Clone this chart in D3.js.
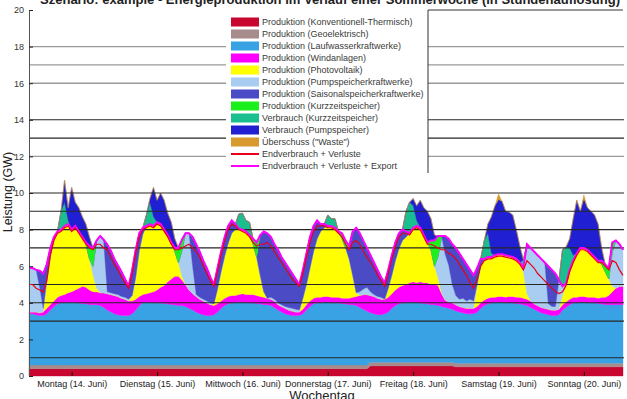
<!DOCTYPE html>
<html lang="de">
<head>
<meta charset="UTF-8">
<title>Energieproduktion im Verlauf einer Sommerwoche</title>
<style>
  html, body { margin: 0; padding: 0; background: #fff; }
  svg { display: block; font-family: 'Liberation Sans', Arial, Helvetica, sans-serif; }
</style>
</head>
<body>
<svg id="chart" width="627" height="399"></svg>
<script src="https://cdn.jsdelivr.net/npm/d3@7"></script>
<script>
// hourly values in GW, one row per day (Mo .. So)
const thermal = [
  0.4,0.4,0.4,0.4,0.4,0.4,0.4,0.4,0.4,0.4,0.4,0.4,0.4,0.4,0.4,0.4,0.4,0.4,0.4,0.4,0.4,0.4,0.4,0.4,
  0.4,0.4,0.4,0.4,0.4,0.4,0.4,0.4,0.4,0.4,0.4,0.4,0.4,0.4,0.4,0.4,0.4,0.4,0.4,0.4,0.4,0.4,0.4,0.4,
  0.4,0.4,0.4,0.4,0.4,0.4,0.4,0.4,0.4,0.4,0.4,0.4,0.4,0.4,0.4,0.4,0.4,0.4,0.4,0.4,0.4,0.4,0.4,0.4,
  0.4,0.4,0.4,0.4,0.4,0.4,0.4,0.4,0.4,0.4,0.4,0.4,0.4,0.4,0.4,0.4,0.4,0.4,0.4,0.4,0.4,0.4,0.4,0.4,
  0.55,0.55,0.55,0.55,0.55,0.55,0.55,0.55,0.55,0.55,0.55,0.55,0.55,0.55,0.55,0.55,0.55,0.55,0.55,0.55,0.55,0.55,0.55,0.55,
  0.5,0.5,0.5,0.5,0.5,0.5,0.5,0.5,0.5,0.5,0.5,0.5,0.5,0.5,0.5,0.5,0.5,0.5,0.5,0.5,0.5,0.5,0.5,0.5,
  0.5,0.5,0.5,0.5,0.5,0.5,0.5,0.5,0.5,0.5,0.5,0.5,0.5,0.5,0.5,0.5,0.5,0.5,0.5,0.5,0.5,0.5,0.5,0.5
];
const geo = [
  0.2,0.2,0.2,0.2,0.2,0.2,0.2,0.2,0.2,0.2,0.2,0.2,0.2,0.2,0.2,0.2,0.2,0.2,0.2,0.2,0.2,0.2,0.2,0.2,
  0.2,0.2,0.2,0.2,0.2,0.2,0.2,0.2,0.2,0.2,0.2,0.2,0.2,0.2,0.2,0.2,0.2,0.2,0.2,0.2,0.2,0.2,0.2,0.2,
  0.2,0.2,0.2,0.2,0.2,0.2,0.2,0.2,0.2,0.2,0.2,0.2,0.2,0.2,0.2,0.2,0.2,0.2,0.2,0.2,0.2,0.2,0.2,0.2,
  0.2,0.2,0.2,0.2,0.2,0.2,0.2,0.2,0.2,0.2,0.2,0.2,0.2,0.2,0.2,0.2,0.2,0.2,0.2,0.2,0.2,0.2,0.2,0.2,
  0.2,0.2,0.2,0.2,0.2,0.2,0.2,0.2,0.2,0.2,0.2,0.2,0.2,0.2,0.2,0.2,0.2,0.2,0.2,0.2,0.2,0.2,0.2,0.2,
  0.2,0.2,0.2,0.2,0.2,0.2,0.2,0.2,0.2,0.2,0.2,0.2,0.2,0.2,0.2,0.2,0.2,0.2,0.2,0.2,0.2,0.2,0.2,0.2,
  0.2,0.2,0.2,0.2,0.2,0.2,0.2,0.2,0.2,0.2,0.2,0.2,0.2,0.2,0.2,0.2,0.2,0.2,0.2,0.2,0.2,0.2,0.2,0.2
];
const lauf = [
  2.8,2.8,2.75,2.7,2.7,2.8,3.0,3.2,3.35,3.4,3.4,3.45,3.45,3.4,3.4,3.35,3.35,3.3,3.3,3.3,3.25,3.15,3.0,2.9,
  2.8,2.75,2.7,2.7,2.7,2.8,3.0,3.25,3.4,3.45,3.45,3.4,3.4,3.4,3.35,3.35,3.3,3.3,3.25,3.25,3.2,3.1,3.0,2.9,
  2.8,2.75,2.7,2.7,2.75,2.9,3.1,3.25,3.35,3.4,3.4,3.45,3.45,3.4,3.4,3.4,3.35,3.35,3.3,3.3,3.25,3.15,3.0,2.9,
  2.8,2.75,2.7,2.7,2.7,2.8,3.0,3.2,3.35,3.4,3.4,3.45,3.45,3.4,3.4,3.4,3.35,3.35,3.3,3.3,3.25,3.15,3.05,2.95,
  2.7,2.65,2.6,2.6,2.65,2.75,2.95,3.1,3.2,3.25,3.25,3.3,3.3,3.25,3.25,3.2,3.2,3.15,3.15,3.1,3.05,3.0,2.95,2.9,
  2.85,2.8,2.75,2.7,2.7,2.7,2.8,3.0,3.15,3.25,3.3,3.3,3.35,3.35,3.3,3.3,3.3,3.25,3.25,3.2,3.15,3.05,2.95,2.85,
  2.75,2.7,2.65,2.6,2.6,2.65,2.9,3.05,3.2,3.3,3.3,3.35,3.35,3.3,3.3,3.3,3.25,3.25,3.2,3.2,3.2,3.2,3.2,3.2
];
const wind = [
  0.1,0.1,0.15,0.15,0.2,0.3,0.3,0.3,0.35,0.4,0.45,0.5,0.55,0.7,0.8,0.95,0.9,0.8,0.7,0.7,0.7,0.8,0.9,0.95,
  1.0,1.0,0.95,0.9,0.8,0.7,0.6,0.5,0.45,0.45,0.5,0.6,0.7,0.85,1.0,1.2,1.4,1.55,1.6,1.4,1.2,1.0,0.9,0.85,
  0.8,0.75,0.7,0.6,0.5,0.45,0.4,0.4,0.4,0.4,0.4,0.4,0.45,0.45,0.45,0.45,0.45,0.4,0.4,0.35,0.35,0.35,0.3,0.3,
  0.3,0.25,0.25,0.2,0.2,0.25,0.3,0.3,0.3,0.3,0.3,0.3,0.3,0.3,0.3,0.3,0.3,0.3,0.35,0.4,0.5,0.65,0.8,0.9,
  0.95,0.95,0.9,0.85,0.8,0.8,0.8,0.85,0.9,0.95,1.0,1.05,1.1,1.1,1.15,1.15,1.15,1.1,1.1,1.1,0.7,0.4,0.35,0.35,
  0.35,0.3,0.3,0.3,0.3,0.3,0.3,0.3,0.3,0.3,0.3,0.3,0.3,0.3,0.3,0.35,0.35,0.35,0.35,0.35,0.35,0.35,0.3,0.3,
  0.3,0.3,0.3,0.3,0.3,0.3,0.3,0.3,0.3,0.3,0.3,0.3,0.3,0.3,0.3,0.3,0.3,0.35,0.4,0.5,0.7,0.9,1.0,1.0
];
const pv = [
  0,0,0,0,0,1.5,2.6,3.4,3.6,3.6,3.75,3.75,3.4,3.5,3.1,2.7,2.35,1.7,0.9,0.2,0,0,0,0,
  0,0,0,0,0,0.3,1.2,2.5,3.3,3.7,3.75,3.6,3.7,3.45,3.05,2.55,2.0,1.35,0.75,0.2,0,0,0,0,
  0,0,0,0,0.1,0.8,1.6,2.3,2.9,3.4,3.6,3.6,3.5,3.45,3.25,2.75,2.1,1.15,0.3,0,0,0,0,0,
  0,0,0,0,0,0.6,1.1,1.8,2.55,3.2,3.6,3.75,3.85,3.9,3.8,3.6,3.25,2.75,2.15,1.2,0.2,0,0,0,
  0,0,0,0,0,0.5,1.0,1.6,2.1,2.45,2.6,2.7,2.95,3.1,2.95,2.6,2.2,1.9,1.0,0.4,0.05,0,0,0,
  0,0,0,0,0,0,1.2,2.0,2.25,2.25,2.2,2.3,2.3,2.3,2.3,2.2,2.15,2.1,1.9,1.4,0.3,0,0,0,
  0,0,0,0,0,0,0.5,1.0,1.6,2.0,2.4,2.65,2.65,2.6,2.4,2.2,2.05,1.8,1.4,0.9,0.3,0,0,0
];
const pump = [
  2.4,2.4,2.3,1.4,0.2,0,0,0,0,0,0,0,0,0,0,0,0,0,0.5,2.6,3.1,2.8,0.1,0.1,
  0.1,0.1,0.1,0.1,0.1,0,0,0,0,0,0,0,0,0,0,0,0,0,0,1.4,2.8,3.1,1.5,0.1,
  0.1,0.1,0.1,0.1,0,0,0,0,0,0,0,0,0,0,0,0,0,0,0,0,0.1,0.1,0.1,0.1,
  0.1,0.15,0.15,0.15,0.1,0,0,0,0,0,0,0,0,0,0,0,0,0,0,0,0,0.2,0.3,0.4,
  0.2,0.1,0.1,0.1,0,0,0,0,0,0,0,0,0,0,0,0,0,0,0,1.2,3.1,2.5,2.0,1.0,
  0.5,0.4,0.5,0.4,0.5,0.4,0,0,0,0,0,0,0,0,0,0,0,0,0,0.3,2.7,2.9,2.85,2.75,
  2.65,2.5,0.3,0.2,0.2,1.6,0.5,0,0,0,0,0,0,0,0,0,0,0,0,0,1.9,2.6,2.3,2.0
];
const seasonal = [
  0,0,0,0.9,1.9,0.9,0.5,0.1,0,0,0,0,0,0,0,0,0,0,0,0,0,0.1,2.6,2.3,
  1.9,1.6,1.35,1.0,0.7,1.4,1.5,0.95,0.35,0,0,0,0,0,0,0,0,0,0,0,0,0,1.6,2.75,
  2.5,2.1,1.8,1.4,1.05,1.15,1.1,1.05,0.95,0.7,0.3,0,0,0,0,0,0,2.2,3.3,3.55,3.3,3.0,2.9,2.6,
  2.4,2.15,1.9,1.65,1.4,1.55,1.7,1.7,1.4,1.0,0.4,0.2,0,0,0,0,0,0,0.7,2.4,3.55,3.2,2.65,2.15,
  2.0,1.75,1.45,1.1,0.9,1.0,1.1,1.0,0.85,0.6,0.3,0,0,0,0,0,0,0,0,0,0,1.0,1.45,2.2,
  2.6,2.5,2.15,2.0,1.6,1.4,0.9,0.4,0,0,0,0,0,0,0,0,0,0,0,0,0,0,0,0,
  0,0,2.05,2.0,1.8,0,0,0,0,0,0,0,0,0,0,0,0,0,0,0,0,0,0,0
];
const shortProd = [
  0,0,0,0,0,0,0,0,0,0,0,0,0,0,0,0,0.1,0.7,1.0,0,0,0,0,0,
  0,0,0,0,0,0,0,0,0,0,0,0,0,0,0,0,0,0.2,0.8,0.6,0,0,0,0,
  0,0,0,0,0,0,0,0,0,0,0,0,0,0,0,0.3,0.8,0,0,0,0,0,0,0,
  0,0,0,0,0,0,0,0,0,0,0,0,0,0,0,0,0.3,0.4,0,0,0,0,0,0,
  0,0,0,0,0,0,0,0,0,0,0,0,0,0,0,0,0,0.5,1.4,1.1,0,0,0,0,
  0,0,0,0,0,0,0,0,0,0,0,0,0,0,0,0,0,0,0,0,0,0,0,0,
  0,0,0,0,0,0,0,0,0,0,0,0,0,0,0,0,0,0.2,0.4,0.6,0.5,0,0,0
];
const shortCons = [
  0,0,0,0,0,0,0,0,0,1.0,1.3,0.2,0,0,0,0,0,0,0,0,0,0,0,0,
  0,0,0,0,0,0,0,0,0,0.6,1.2,0.5,0,0,0,0,0,0,0,0,0,0,0,0,
  0,0,0,0,0,0,0,0,0,0,0,0.8,0.9,0.6,0.7,0,0,0,0,0,0,0,0,0,
  0,0,0,0,0,0,0,0,0,0,0,0,0.6,0.4,0.5,0,0,0,0,0,0,0,0,0,
  0,0,0,0,0,0,0,0,0,0,1.1,1.7,1.2,0.3,0,0,0,0,0,0,0,0,0,0,
  0,0,0,0,0,0,0,0,1.0,1.3,0.2,0,0,0,0,0,0,0,0,0.4,0,0,0,0,
  0,0,0,0,0,0,2.0,2.0,1.2,0.3,0,0,0,0,0,0,0,0,0,0,0,0,0,0
];
const pumpCons = [
  0,0,0,0,0,0,0,0,0,0,1.2,0.7,2.3,1.3,1.3,1.1,1.0,0.5,0,0,0,0,0,0,
  0,0,0,0,0,0,0,0,0,0,0.2,1.6,1.2,1.7,1.6,1.2,1.1,0.5,0,0,0,0,0,0,
  0,0,0,0,0,0,0,0,0,0,0,0,0,0,0,0,0,0,0,0,0,0,0,0,
  0,0,0,0,0,0,0,0,0,0,0,0,0,0,0,0,0,0,0,0,0,0,0,0,
  0,0,0,0,0,0,0,0,0,0,0,0,0.4,0.8,1.5,1.5,1.7,1.2,0.3,0,0,0,0,0,
  0,0,0,0,0,0,0,0,0,0.5,2.0,2.7,3.0,2.9,2.4,2.4,2.3,1.6,0.9,0,0,0,0,0,
  0,0,0,0,0,0,0,0,0.5,2.0,2.9,2.0,2.7,2.3,2.3,2.3,2.0,0.7,0,0,0,0,0,0
];
const waste = [
  0,0,0,0,0,0,0,0,0,0,0,0,0,0,0,0,0,0,0,0,0,0,0,0,
  0,0,0,0,0,0,0,0,0,0,0,0,0,0,0,0,0,0,0,0,0,0,0,0,
  0,0,0,0,0,0,0,0,0,0,0,0,0,0,0,0,0,0,0,0,0,0,0,0,
  0,0,0,0,0,0,0,0,0,0,0,0,0,0,0,0,0,0,0,0,0,0,0,0,
  0,0,0,0,0,0,0,0,0,0,0,0,0,0,0,0,0,0,0,0,0,0,0,0,
  0,0,0,0,0,0,0,0,0,0,0,0,0.3,0,0,0,0,0,0,0,0,0,0,0,
  0,0,0,0,0,0,0,0,0,0,0,0,0.2,0,0,0,0,0,0,0,0,0,0,0
];
// Endverbrauch + Verluste
const demand = [
  5.0,5.0,4.8,4.7,4.6,5.2,6.6,7.4,7.8,7.9,8.1,8.2,7.9,8.1,7.8,7.5,7.2,7.0,6.9,7.2,7.2,7.0,6.9,6.5,
  6.1,5.8,5.4,5.1,4.8,5.6,6.7,7.6,8.0,8.1,8.2,8.1,8.3,8.2,7.9,7.6,7.2,6.9,6.9,7.0,7.1,7.2,7.0,6.8,
  6.5,6.0,5.6,5.2,4.9,5.7,6.6,7.4,8.0,8.3,8.2,8.0,7.9,7.8,7.6,7.3,7.1,7.2,7.2,7.3,7.1,6.8,6.5,6.2,
  5.9,5.6,5.3,5.1,4.9,5.6,6.5,7.3,7.9,8.2,8.2,8.2,8.1,8.1,8.0,7.8,7.6,7.2,6.9,7.3,7.4,7.2,6.8,6.5,
  6.2,5.9,5.5,5.2,4.9,5.6,6.4,7.1,7.6,7.8,7.8,7.7,8.0,8.1,8.0,7.6,7.2,7.2,7.1,7.0,6.9,6.9,6.7,6.6,
  6.4,6.1,5.8,5.5,5.1,4.8,5.3,6.0,6.3,6.4,6.4,6.5,6.55,6.55,6.5,6.45,6.4,6.3,6.1,5.8,6.3,6.1,5.9,5.6,
  5.4,5.2,5.0,4.8,4.6,4.5,4.6,4.95,5.7,6.2,6.6,6.9,6.9,6.8,6.6,6.4,6.2,6.2,6.0,5.8,6.3,6.2,5.8,5.5
];
// Endverbrauch + Verluste + Export
const demandExport = [
  5.9,5.9,5.8,5.75,5.6,6.1,7.0,7.6,7.9,8.0,8.2,8.3,8.0,8.2,7.9,7.6,7.3,7.1,7.0,7.4,7.65,7.45,7.2,6.85,
  6.4,6.05,5.7,5.3,4.9,5.8,6.9,7.8,8.1,8.2,8.3,8.2,8.4,8.3,8.0,7.7,7.3,7.0,7.0,7.45,7.8,7.8,7.6,7.2,
  6.8,6.3,5.9,5.4,5.0,5.9,6.8,7.6,8.2,8.5,8.3,8.05,8.0,7.9,7.7,7.5,7.3,7.7,7.9,7.8,7.6,7.2,6.9,6.5,
  6.2,5.9,5.6,5.3,5.0,5.8,6.7,7.6,8.2,8.5,8.3,8.3,8.2,8.2,8.1,7.9,7.8,7.4,7.1,7.9,8.1,7.8,7.4,7.0,
  6.6,6.2,5.8,5.4,5.1,5.8,6.6,7.3,7.8,8.0,7.9,7.8,8.1,8.2,8.1,7.7,7.3,7.4,7.4,7.65,7.65,7.65,7.5,7.2,
  7.0,6.7,6.4,6.1,5.8,5.5,5.9,6.4,6.4,6.5,6.5,6.6,6.65,6.65,6.6,6.55,6.5,6.4,6.2,5.95,7.2,7.0,6.8,6.6,
  6.4,6.2,6.0,5.8,5.6,5.25,4.9,5.05,5.8,6.3,6.7,7.0,7.0,6.9,6.7,6.5,6.3,6.3,6.1,5.9,7.3,7.4,7.2,6.9
];

const dayLabels = ['Montag (14. Juni)', 'Dienstag (15. Juni)', 'Mittwoch (16. Juni)',
  'Donnerstag (17. Juni)', 'Freitag (18. Juni)', 'Samstag (19. Juni)', 'Sonntag (20. Juni)'];
const dayTicks = [12, 36, 60, 84, 108, 132, 156];
const yTicks = [0, 2, 4, 6, 8, 10, 12, 14, 16, 18, 20];
const gridDark = [1, 3, 4, 5, 7, 8, 9, 10, 13, 14];
const gridGray = [12, 16, 17, 18];

const keys = ['thermal', 'geo', 'lauf', 'wind', 'pv', 'pump', 'seasonal',
  'shortProd', 'shortCons', 'pumpCons', 'waste'];
const series = { thermal, geo, lauf, wind, pv, pump, seasonal, shortProd, shortCons, pumpCons, waste };
const names = ['Produktion (Konventionell-Thermisch)', 'Produktion (Geoelektrisch)',
  'Produktion (Laufwasserkraftwerke)', 'Produktion (Windanlagen)', 'Produktion (Photovoltaik)',
  'Produktion (Pumpspeicherkraftwerke)', 'Produktion (Saisonalspeicherkraftwerke)',
  'Produktion (Kurzzeitspeicher)', 'Verbrauch (Kurzzeitspeicher)', 'Verbrauch (Pumpspeicher)',
  'Überschuss ("Waste")'];
const colors = ['#c8062f', '#a88c8c', '#38a2e4', '#ff00ff', '#ffff00', '#a8cdf0',
  '#4b4bc6', '#1cf01c', '#19bf8e', '#2020d2', '#d89a2c'];

const svg = d3.select('#chart');
const x = d3.scaleLinear().domain([0, 167]).range([29, 623]);
const y = d3.scaleLinear().domain([0, 20]).range([376, 10]);

const rows = d3.range(168).map(i => {
  const r = {};
  keys.forEach(k => { r[k] = series[k][i]; });
  return r;
});
const stacked = d3.stack().keys(keys)(rows);

const area = d3.area()
  .x((d, i) => x(i))
  .y0(d => y(d[0]))
  .y1(d => y(d[1]));

svg.append('g').selectAll('path')
  .data(stacked)
  .join('path')
  .attr('d', area)
  .attr('fill', (d, i) => colors[i])
  .attr('stroke', (d, i) => colors[i])
  .attr('stroke-width', 0.4);

// horizontal reference lines
const grid = svg.append('g');
grid.selectAll('line.gray')
  .data(gridGray)
  .join('line')
  .attr('class', 'gray')
  .attr('x1', 29).attr('x2', 624)
  .attr('y1', d => y(d)).attr('y2', d => y(d))
  .attr('stroke', '#9a9a9a').attr('stroke-width', 1.4);
grid.selectAll('line.dark')
  .data(gridDark)
  .join('line')
  .attr('class', 'dark')
  .attr('x1', 29).attr('x2', 624)
  .attr('y1', d => y(d)).attr('y2', d => y(d))
  .attr('stroke', '#262626').attr('stroke-width', 1.1);

const line = d3.line().x((d, i) => x(i)).y(d => y(d));
svg.append('path')
  .datum(demandExport)
  .attr('d', line)
  .attr('fill', 'none')
  .attr('stroke', '#ff00ff')
  .attr('stroke-width', 2);
svg.append('path')
  .datum(demand)
  .attr('d', line)
  .attr('fill', 'none')
  .attr('stroke', '#e8001a')
  .attr('stroke-width', 1.2);

// axes
const yAxis = svg.append('g')
  .attr('transform', 'translate(29,0)')
  .call(d3.axisLeft(y).tickValues(yTicks).tickSizeInner(-4).tickSizeOuter(0).tickPadding(5));
yAxis.select('.domain').attr('stroke', '#555');
yAxis.selectAll('.tick line').attr('stroke', '#222');
yAxis.selectAll('text').attr('font-size', 9).attr('fill', '#333')
  .attr('font-family', "'Liberation Sans', Arial, sans-serif");

const xAxis = svg.append('g')
  .attr('transform', 'translate(0,376)')
  .call(d3.axisBottom(x).tickValues(dayTicks).tickFormat((d, i) => dayLabels[i])
    .tickSizeInner(-4).tickSizeOuter(0).tickPadding(5));
xAxis.select('.domain').remove();
xAxis.selectAll('.tick line').attr('stroke', '#111');
xAxis.selectAll('text').attr('font-size', 9).attr('fill', '#222')
  .attr('font-family', "'Liberation Sans', Arial, sans-serif");

// legend
const lg = svg.append('g');
lg.append('rect')
  .attr('x', 226).attr('y', 9).attr('width', 202).attr('height', 164)
  .attr('fill', '#fff');
lg.append('line')
  .attr('x1', 428).attr('x2', 428).attr('y1', 10).attr('y2', 173)
  .attr('stroke', '#333').attr('stroke-width', 1);
svg.append('line')
  .attr('x1', 428).attr('x2', 623).attr('y1', 10).attr('y2', 10)
  .attr('stroke', '#333').attr('stroke-width', 1);

const legendItems = names.map((n, i) => ({ name: n, color: colors[i], type: 'area' }))
  .concat([
    { name: 'Endverbrauch + Verluste', color: '#e8001a', type: 'line' },
    { name: 'Endverbrauch + Verluste + Export', color: '#ff00ff', type: 'line' }
  ]);
const item = lg.selectAll('g.item')
  .data(legendItems)
  .join('g')
  .attr('class', 'item')
  .attr('transform', (d, i) => `translate(231,${22 + i * 12})`);
item.filter(d => d.type === 'area').append('rect')
  .attr('x', 0).attr('y', -4.5).attr('width', 28).attr('height', 9)
  .attr('fill', d => d.color);
item.filter(d => d.type === 'line').append('line')
  .attr('x1', 0).attr('x2', 28).attr('y1', 0).attr('y2', 0)
  .attr('stroke', d => d.color).attr('stroke-width', 2);
item.append('text')
  .attr('x', 31).attr('y', 3.2)
  .attr('font-size', 9).attr('fill', '#3a3a3a')
  .text(d => d.name);

// titles
svg.append('text')
  .attr('x', 330).attr('y', 4)
  .attr('text-anchor', 'middle')
  .attr('font-size', 13).attr('font-weight', 'bold').attr('fill', '#222')
  .attr('textLength', 580).attr('lengthAdjust', 'spacingAndGlyphs')
  .text('Szenario: example - Energieproduktion im Verlauf einer Sommerwoche (in Stundenauflösung)');
svg.append('text')
  .attr('transform', 'translate(12,192) rotate(-90)')
  .attr('text-anchor', 'middle')
  .attr('font-size', 12.5).attr('fill', '#222')
  .text('Leistung (GW)');
svg.append('text')
  .attr('x', 322).attr('y', 400)
  .attr('text-anchor', 'middle')
  .attr('font-size', 13).attr('fill', '#222')
  .text('Wochentag');
</script>
</body>
</html>
